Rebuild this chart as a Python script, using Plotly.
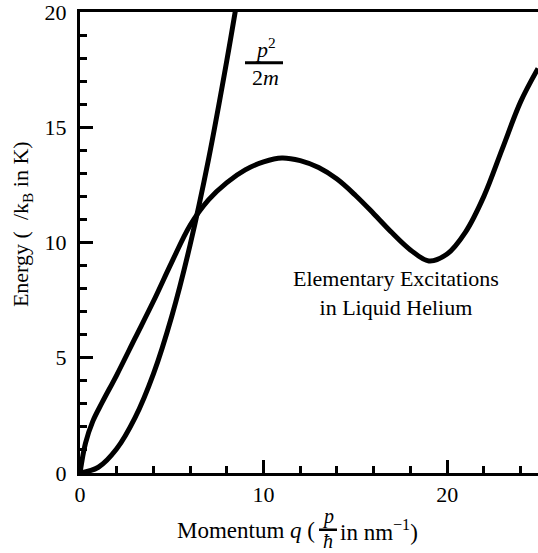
import plotly.graph_objects as go

# ---- data ----
disp_q = [0, 0.3, 0.7, 1.2, 2, 3, 4, 5, 6, 7, 8, 9, 10, 11, 12, 13, 14, 15, 16, 17, 18,
          19, 20, 21, 22, 23, 24, 24.95]
disp_E = [0, 1.3, 2.25, 3.05, 4.25, 5.85, 7.45, 9.15, 10.75, 11.85, 12.6, 13.15, 13.5, 13.67,
          13.55, 13.25, 12.75, 12.05, 11.25, 10.42, 9.68, 9.2, 9.5, 10.45, 12.0, 14.05, 16.1, 17.55]

free_q = [0, 1, 2, 3, 4, 5, 6, 7, 8, 8.6]
free_E = [0, 0.25, 1.05, 2.4, 4.3, 6.8, 9.9, 13.6, 17.9, 20.7]

x_ticks = [0, 10, 20]
y_ticks = [0, 5, 10, 15, 20]

FONT = "Liberation Serif"
FS = 22
W, H = 538, 553
ML, MR, MT, MB = 80, 0, 10, 80

def px(x):
    return (x - ML) / (W - ML - MR)

def py(y):
    return (H - MB - y) / (H - MT - MB)

fig = go.Figure()
for qs, es in ((disp_q, disp_E), (free_q, free_E)):
    fig.add_trace(go.Scatter(x=qs, y=es, mode="lines",
                             line=dict(color="black", width=5, shape="spline", smoothing=1.0),
                             hoverinfo="skip", showlegend=False))

annots = []
def ann(text, x, y, xanchor="center", yanchor="middle", angle=0, size=FS, family=FONT):
    annots.append(dict(text=text, x=px(x), y=py(y), xref="paper", yref="paper",
                       xanchor=xanchor, yanchor=yanchor, showarrow=False,
                       textangle=angle, borderpad=0,
                       font=dict(family=family, size=size, color="black")))

# p^2 / 2m label
ann("<i>p</i><sup>2</sup>", 265, 61, yanchor="bottom")
ann("2<i>m</i>", 265, 62, yanchor="top")
# curve label
ann("Elementary Excitations<br>in Liquid Helium", 396, 292, size=22)
# y title
ann("Energy (  /k<sub>B</sub> in K)", 22, 223, angle=-90)
# x title
ann("Momentum <i>q</i> (", 316, 531, xanchor="right", size=23)
ann("<i>p</i>", 328, 517, size=20)
ann("<i>ħ</i>", 328, 541, size=20)
ann("in nm<sup>−1</sup>)", 339, 531, xanchor="left", size=23)

shapes = [
    dict(type="line", xref="paper", yref="paper", x0=px(245), x1=px(283), y0=py(61), y1=py(61),
         line=dict(color="black", width=3)),
    dict(type="line", xref="paper", yref="paper", x0=px(319), x1=px(337), y0=py(530), y1=py(530),
         line=dict(color="black", width=2.5)),
]

axis_common = dict(ticks="inside", ticklen=13, tickwidth=3, tickcolor="black",
                   showline=True, linecolor="black", linewidth=3,
                   ticklabeloverflow="allow", showgrid=False, zeroline=False,
                   tickfont=dict(family=FONT, size=FS, color="black"))

fig.update_layout(
    width=W, height=H, margin=dict(l=ML, r=MR, t=MT, b=MB),
    paper_bgcolor="white", plot_bgcolor="white",
    annotations=annots, shapes=shapes, showlegend=False,
    font=dict(family=FONT, size=FS, color="black"),
    xaxis=dict(range=[0, 24.95], tickvals=x_ticks, ticktext=[str(v) for v in x_ticks],
               minor=dict(dtick=2, tick0=0, ticks="inside", ticklen=7, tickwidth=2.5, tickcolor="black"),
               mirror=True, **axis_common),
    yaxis=dict(range=[0, 20], tickvals=y_ticks, ticktext=[str(v) for v in y_ticks],
               minor=dict(dtick=1, tick0=0, ticks="inside", ticklen=7, tickwidth=2.5, tickcolor="black"),
               mirror=False, ticklabelstandoff=6, **axis_common),
)

fig.write_html("out.html")
